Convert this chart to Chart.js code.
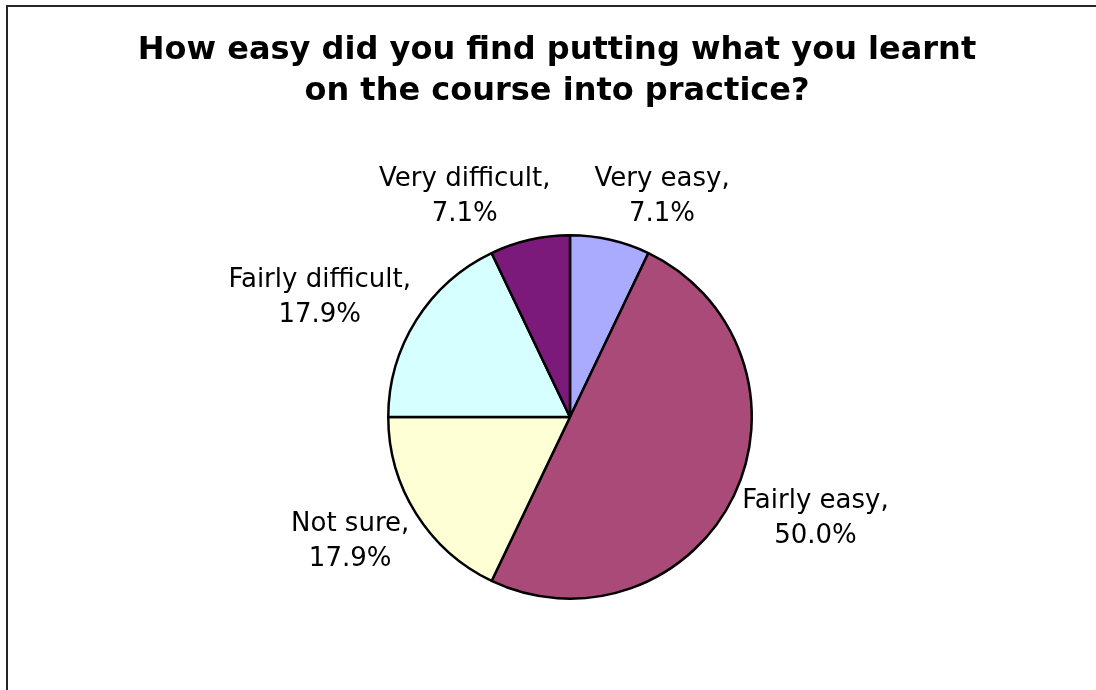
<!DOCTYPE html>
<html lang="en">
<head>
    <meta charset="UTF-8">
    <title>How easy did you find putting what you learnt on the course into practice?</title>
    <script src="https://cdn.jsdelivr.net/npm/chart.js"></script>
    <style>
        html, body {
            margin: 0;
            padding: 0;
            background: #ffffff;
            overflow: hidden;
        }
        .frame {
            position: absolute;
            left: 6px;
            top: 5px;
            right: -20px;
            bottom: -20px;
            border: 2px solid #262626;
        }
        canvas {
            position: absolute;
            left: 0;
            top: 0;
        }
    </style>
</head>
<body>

<div class="frame"></div>
<canvas id="pieChart" width="1096" height="690"></canvas>

<script>
    // data
    const categories = ['Very easy', 'Fairly easy', 'Not sure', 'Fairly difficult', 'Very difficult'];
    const percentages = [7.1, 50.0, 17.9, 17.9, 7.1];
    const sliceColours = ['#AAAAFF', '#A94A78', '#FFFFD6', '#D6FFFF', '#7B1A7B'];
    const titleLines = ['How easy did you find putting what you learnt', 'on the course into practice?'];

    const FONT = '"DejaVu Sans", Verdana, sans-serif';

    // title drawn by hand so it can sit off the pie's centre line, like the original
    const titlePlugin = {
        id: 'handTitle',
        afterDraw(chart) {
            const ctx = chart.ctx;
            ctx.save();
            ctx.fillStyle = '#000';
            ctx.font = 'bold 32px ' + FONT;
            ctx.textAlign = 'center';
            ctx.textBaseline = 'alphabetic';
            titleLines.forEach((line, i) => {
                ctx.fillText(line, 557, 59 + i * 41);
            });
            ctx.restore();
        }
    };

    // "Category, xx.x%" labels outside each slice
    const sliceLabels = {
        id: 'sliceLabels',
        afterDatasetsDraw(chart) {
            const ctx = chart.ctx;
            const meta = chart.getDatasetMeta(0);
            const lineH = 35;
            ctx.save();
            ctx.font = '26px ' + FONT;
            ctx.fillStyle = '#000';
            ctx.textAlign = 'center';
            ctx.textBaseline = 'middle';
            meta.data.forEach((arc, i) => {
                const p = arc.getProps(['x', 'y', 'startAngle', 'endAngle', 'outerRadius'], true);
                const mid = (p.startAngle + p.endAngle) / 2;
                const dx = Math.cos(mid), dy = Math.sin(mid);
                const lines = [categories[i] + ',', percentages[i].toFixed(1) + '%'];
                const w = Math.max(...lines.map(l => ctx.measureText(l).width));
                const h = lines.length * lineH;
                const ax = p.x + (p.outerRadius + 12) * dx;
                const ay = p.y + (p.outerRadius + 12) * dy;
                const cx = ax + Math.sign(dx) * (w / 2) * (0.65 + 0.35 * Math.abs(dx));
                const cy = ay + dy * h / 2 + 3;
                lines.forEach((l, j) => {
                    ctx.fillText(l, cx, cy - h / 2 + lineH / 2 + j * lineH);
                });
            });
            ctx.restore();
        }
    };

    const ctx = document.getElementById('pieChart').getContext('2d');
    const pieChart = new Chart(ctx, {
        type: 'pie',
        data: {
            labels: categories,
            datasets: [{
                data: percentages,
                backgroundColor: sliceColours,
                borderColor: '#000000',
                borderWidth: 2.5
            }]
        },
        options: {
            responsive: false,
            animation: false,
            layout: {
                padding: { top: 234, bottom: 90, left: 44, right: 0 }
            },
            plugins: {
                legend: { display: false },
                title: { display: false },
                tooltip: { enabled: false }
            }
        },
        plugins: [titlePlugin, sliceLabels]
    });
</script>

</body>
</html>
